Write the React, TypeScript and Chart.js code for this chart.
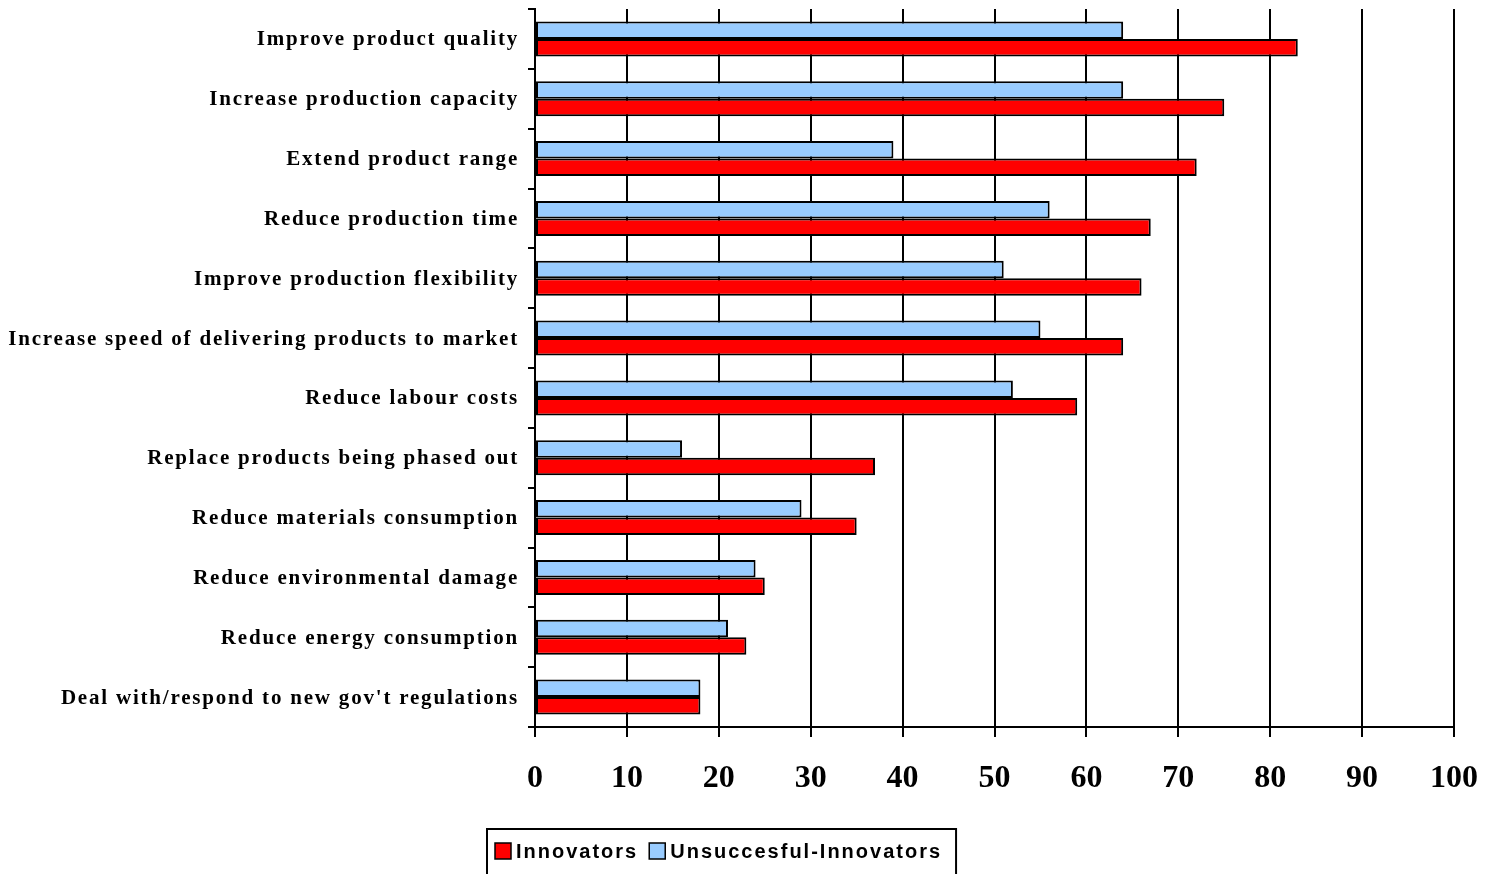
import React, { useEffect, useRef } from "react";
import { Chart, registerables } from "chart.js";

Chart.register(...registerables);

// Reasons for innovating, top to bottom
const categories: string[] = [
  "Improve product quality",
  "Increase production capacity",
  "Extend product range",
  "Reduce production time",
  "Improve production flexibility",
  "Increase speed of delivering products to market",
  "Reduce labour costs",
  "Replace products being phased out",
  "Reduce materials consumption",
  "Reduce environmental damage",
  "Reduce energy consumption",
  "Deal with/respond to new gov't regulations",
];

// Percentage of firms citing each reason
const innovators: number[] = [83, 75, 72, 67, 66, 64, 59, 37, 35, 25, 23, 18];
const unsuccessfulInnovators: number[] = [64, 64, 39, 56, 51, 55, 52, 16, 29, 24, 21, 18];

const xTicks: number[] = [0, 10, 20, 30, 40, 50, 60, 70, 80, 90, 100];

const RED = "#FF0000";
const BLUE = "#99CCFF";

const SERIF = '"Liberation Serif", "Times New Roman", Times, serif';
const SANS = '"Liberation Sans", Arial, Helvetica, sans-serif';

// Category names drawn beside the y axis with a little letter spacing
const categoryLabels = {
  id: "categoryLabels",
  afterDraw(chart: any) {
    const y = chart.scales.y;
    const ctx = chart.ctx as CanvasRenderingContext2D;
    ctx.save();
    ctx.font = `bold 21px ${SERIF}`;
    (ctx as any).letterSpacing = "1.8px";
    ctx.fillStyle = "#000";
    ctx.textAlign = "right";
    ctx.textBaseline = "middle";
    (chart.data.labels as string[]).forEach((lab, i) => {
      ctx.fillText(lab, y.right - 16, y.getPixelForTick(i) + 1);
    });
    (ctx as any).letterSpacing = "0px";
    ctx.restore();
  },
};

// Boxed legend under the axis, Innovators first
const boxedLegend = {
  id: "boxedLegend",
  afterDraw(chart: any) {
    const ctx = chart.ctx as CanvasRenderingContext2D;
    const left = 487;
    const top = 829;
    const midY = 851;
    const sw = 16;
    ctx.save();
    ctx.font = `bold 20px ${SANS}`;
    (ctx as any).letterSpacing = "2px";
    ctx.textBaseline = "middle";
    ctx.textAlign = "left";
    const items = [...chart.data.datasets].reverse();
    let x = left + 8;
    items.forEach((ds: any, i: number) => {
      ctx.fillStyle = ds.backgroundColor;
      ctx.fillRect(x, midY - sw / 2, sw, sw);
      ctx.strokeStyle = "#000";
      ctx.lineWidth = 1.5;
      ctx.strokeRect(x, midY - sw / 2, sw, sw);
      ctx.fillStyle = "#000";
      ctx.fillText(ds.label, x + sw + 5, midY + 1);
      x += sw + 5 + ctx.measureText(ds.label).width;
      if (i < items.length - 1) x += 11;
    });
    const right = x + 14;
    ctx.strokeStyle = "#000";
    ctx.lineWidth = 2;
    ctx.strokeRect(left, top, right - left, 80);
    (ctx as any).letterSpacing = "0px";
    ctx.restore();
  },
};

export default function App() {
  const ref = useRef<HTMLCanvasElement | null>(null);

  useEffect(() => {
    if (!ref.current) return;
    const chart = new Chart(ref.current, {
      type: "bar",
      data: {
        labels: categories,
        datasets: [
          {
            label: "Unsuccesful-Innovators",
            data: unsuccessfulInnovators,
            backgroundColor: BLUE,
            borderColor: "#000",
            borderWidth: 2,
            borderSkipped: false,
          },
          {
            label: "Innovators",
            data: innovators,
            backgroundColor: RED,
            borderColor: "#000",
            borderWidth: 2,
            borderSkipped: false,
          },
        ],
      },
      options: {
        indexAxis: "y",
        responsive: false,
        animation: false,
        events: [],
        layout: { padding: { top: 9, right: 43, left: 0, bottom: 0 } },
        datasets: {
          bar: { categoryPercentage: 0.585, barPercentage: 1 },
        },
        plugins: {
          legend: { display: false },
          tooltip: { enabled: false },
          title: { display: false },
        },
        scales: {
          x: {
            type: "linear",
            min: 0,
            max: 100,
            afterFit: (s: any) => {
              s.height = 147;
              s.paddingLeft = 0;
              s.paddingRight = 0;
            },
            afterBuildTicks: (s: any) => {
              s.ticks = xTicks.map((v) => ({ value: v }));
            },
            grid: {
              color: "#000",
              lineWidth: 2,
              drawTicks: true,
              tickLength: 10,
            },
            border: { display: true, color: "#000", width: 2 },
            ticks: {
              color: "#000",
              font: { family: SERIF, size: 32, weight: "bold" },
              padding: 23,
              maxRotation: 0,
            },
          },
          y: {
            type: "category",
            offset: true,
            afterFit: (s: any) => {
              s.width = 535;
              s.paddingTop = 0;
              s.paddingBottom = 0;
            },
            grid: {
              offset: true,
              drawOnChartArea: false,
              drawTicks: true,
              tickLength: 7,
              color: "#000",
              lineWidth: 2,
            },
            border: { display: true, color: "#000", width: 2 },
            ticks: { display: false },
          },
        },
      },
      plugins: [categoryLabels, boxedLegend],
    });
    return () => chart.destroy();
  }, []);

  return (
    <div style={{ position: "fixed", left: 0, top: 0, width: 1497, height: 874, background: "#fff" }}>
      <canvas ref={ref} width={1497} height={874} style={{ display: "block" }} />
    </div>
  );
}
